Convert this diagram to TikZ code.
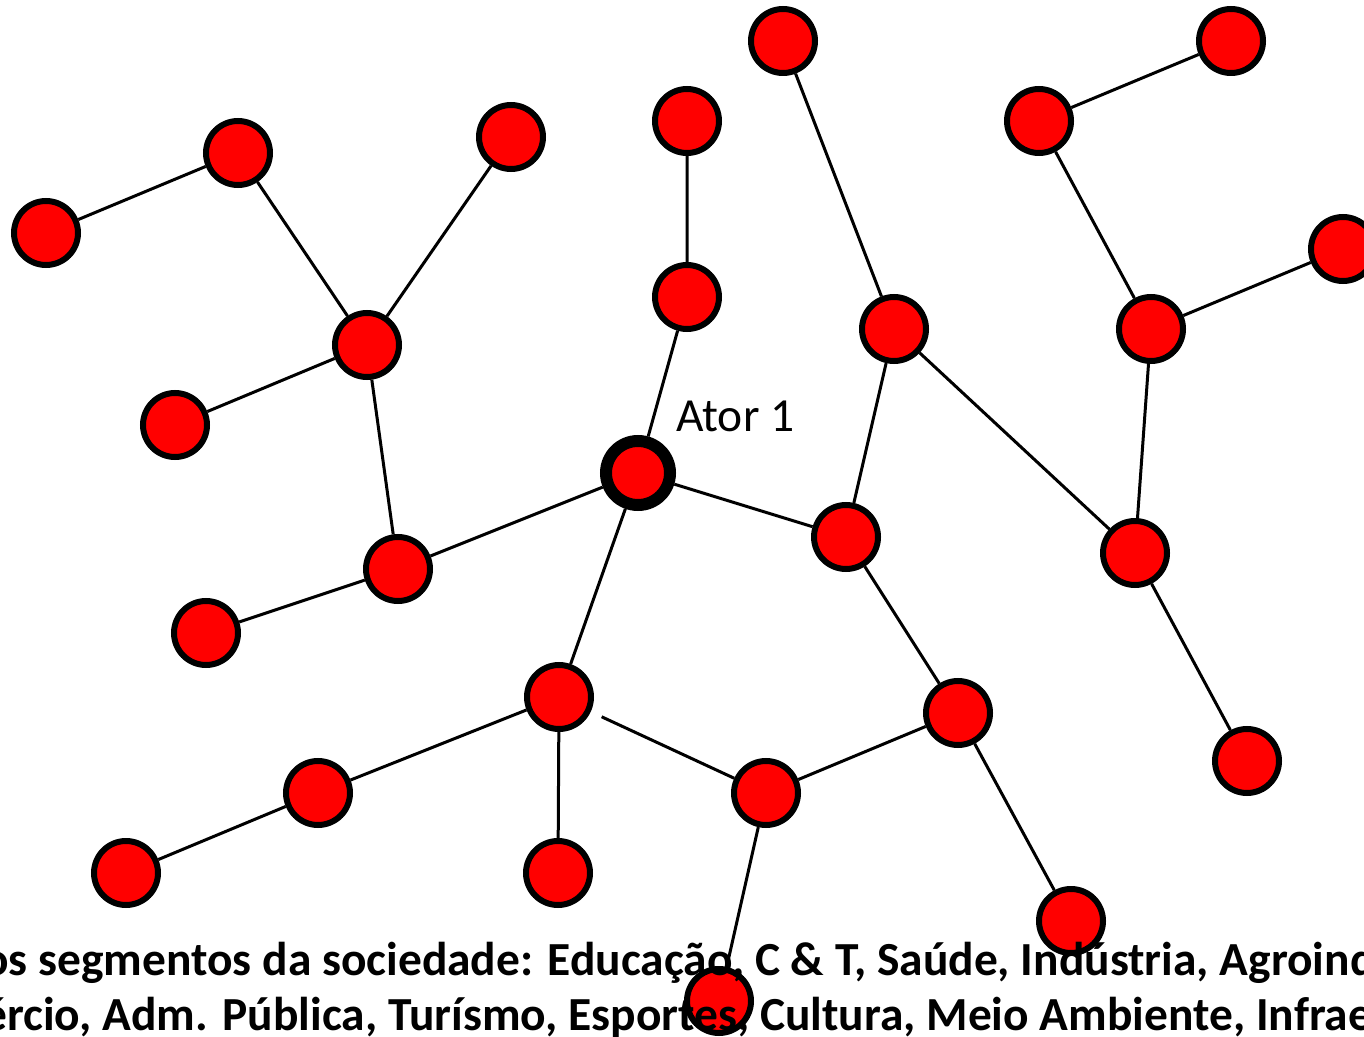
\documentclass[tikz,border=0pt]{standalone}
\usepackage{fontspec}
\setmainfont{Carlito}
\begin{document}
\begin{tikzpicture}[x=0.75pt,y=-0.75pt,
    ator/.style={circle,draw,fill=red,line width=4.5pt,minimum size=48pt,inner sep=0pt},
    ligacao/.style={line width=2.25pt},
    rotulo/.style={anchor=base west,inner sep=0pt,font=\fontsize{35.6}{42}\selectfont}]
                \useasboundingbox (0,0) rectangle (1364,1037);
                \clip (0,0) rectangle (1364,1037);
                \node [ator] (n1) at (783,41) {};
                \node [ator] (n2) at (1231,41) {};
                \node [ator] (n3) at (1039,121) {};
                \node [ator] (n4) at (687,121) {};
                \node [ator] (n5) at (511,137) {};
                \node [ator] (n6) at (238,153) {};
                \node [ator] (n7) at (46,233) {};
                \node [ator] (n8) at (1343,249) {};
                \node [ator] (n9) at (687,297) {};
                \node [ator] (n10) at (894,329) {};
                \node [ator] (n11) at (1151,329) {};
                \node [ator] (n12) at (367,345) {};
                \node [ator] (n13) at (175,425) {};
                \node [ator,line width=9pt] (ator1) at (638,473) {};
                \node [ator] (n15) at (846,537) {};
                \node [ator] (n16) at (1135,553) {};
                \node [ator] (n17) at (398,569) {};
                \node [ator] (n18) at (206,633) {};
                \node [ator] (n19) at (559,697) {};
                \node [ator] (n20) at (958,713) {};
                \node [ator] (n21) at (1247,761) {};
                \node [ator] (n22) at (318,793) {};
                \node [ator] (n23) at (766,793) {};
                \node [ator] (n24) at (126,873) {};
                \node [ator] (n25) at (558,873) {};
                \node [ator] (n26) at (1071,921) {};
                \node [ator] (n27) at (719,1001) {};
                \draw [ligacao] (n1)--(n10);
                \draw [ligacao] (n2)--(n3)--(n11)--(n8);
                \draw [ligacao] (n11)--(n16)--(n10)--(n15);
                \draw [ligacao] (n4)--(n9)--(ator1);
                \draw [ligacao] (n5)--(n12)--(n6)--(n7);
                \draw [ligacao] (n13)--(n12)--(n17)--(ator1)--(n15)--(n20);
                \draw [ligacao] (n17)--(n18);
                \draw [ligacao] (ator1)--(n19)--(n22)--(n24);
                \draw [ligacao] (n19)--(n25);
                \draw [ligacao,shorten <=9pt] (n19)--(n23);
                \draw [ligacao] (n23)--(n20)--(n26);
                \draw [ligacao] (n23)--(n27);
                \draw [ligacao] (n16)--(n21);
                \node [rotulo] (lbl) at (676,432) {Ator 1};
                \node [rotulo,font=\bfseries\fontsize{35.6}{42}\selectfont] (linha1) at (-17,975) {os segmentos da sociedade: Educação, C \& T, Saúde, Indústria, Agroind};
                \node [rotulo,font=\bfseries\fontsize{35.6}{42}\selectfont] (linha2) at (-17,1030) {ércio, Adm. Pública, Turísmo, Esportes, Cultura, Meio Ambiente, Infrae};
            \end{tikzpicture}
\end{document}
